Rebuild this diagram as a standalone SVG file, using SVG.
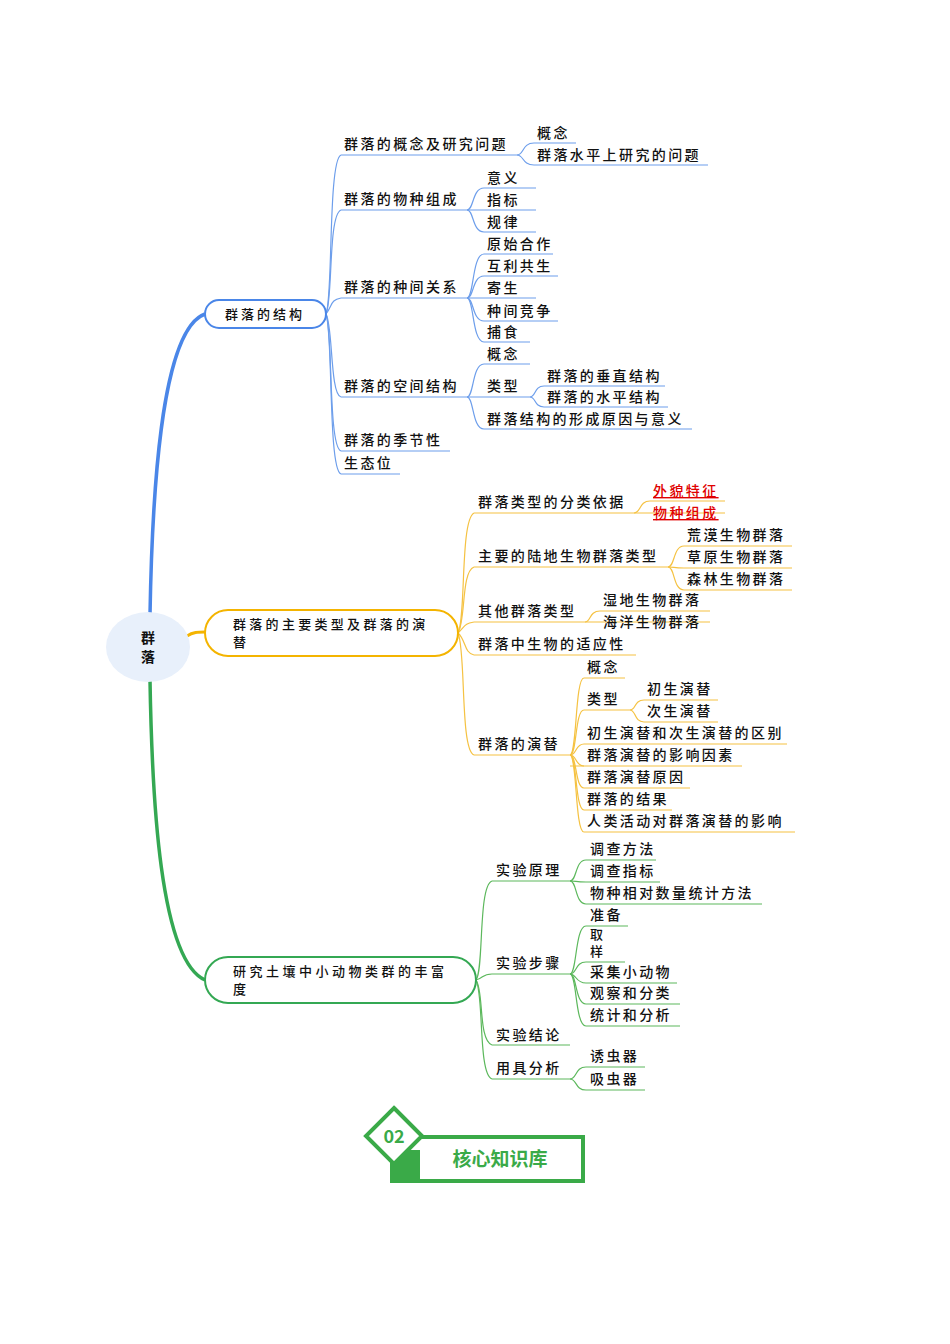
<svg xmlns="http://www.w3.org/2000/svg" width="950" height="1344" viewBox="0 0 950 1344">
<style>
text{font-family:"Noto Sans CJK SC","Noto Sans",sans-serif;font-size:14px;fill:#111;font-weight:500;letter-spacing:2.4px}
.r{fill:#e00000;text-decoration:underline}
.lb{fill:none;stroke:#6d9eeb;stroke-width:1.2}
.ly{fill:none;stroke:#f5c242;stroke-width:1.2}
.lg{fill:none;stroke:#5cb85c;stroke-width:1.2}
</style>
<rect width="950" height="1344" fill="#fff"/>
<g id="connectors">
<path d="M150 615 C152 500 160 330 205 314" fill="none" stroke="#4a86e8" stroke-width="3.5"/>
<path d="M150 680 C152 800 160 960 205 980" fill="none" stroke="#34a853" stroke-width="3.5"/>
<path d="M187 636 C193 632 198 632 205 632" fill="none" stroke="#f4b400" stroke-width="3"/>
<g class="lb">
<path d="M326 314 C333 300 328 160 341 155"/><path d="M326 314 C333 300 328 215 341 210"/><path d="M326 314 C333 305 330 300 341 298"/><path d="M326 314 C333 325 330 395 341 397"/><path d="M326 314 C333 330 328 447 341 451"/><path d="M326 314 C333 330 328 470 341 474"/>
<line x1="341" y1="155" x2="517" y2="155"/><line x1="341" y1="210" x2="467" y2="210"/><line x1="341" y1="298" x2="467" y2="298"/><line x1="341" y1="397" x2="467" y2="397"/><line x1="341" y1="451" x2="450" y2="451"/><line x1="341" y1="474" x2="400" y2="474"/>
<path d="M517 155 C524 155 522 143 534 143"/><path d="M517 155 C524 155 522 165 534 165"/>
<line x1="534" y1="143" x2="576" y2="143"/><line x1="534" y1="165" x2="708" y2="165"/>
<path d="M467 210 C474 210 472 188 484 188"/><line x1="467" y1="210" x2="536" y2="210"/><path d="M467 210 C474 210 472 232 484 232"/>
<line x1="484" y1="188" x2="536" y2="188"/><line x1="484" y1="232" x2="536" y2="232"/>
<path d="M467 298 C474 298 472 254 484 254"/><path d="M467 298 C474 298 472 276 484 276"/><line x1="467" y1="298" x2="536" y2="298"/><path d="M467 298 C474 298 472 321 484 321"/><path d="M467 298 C474 298 472 342 484 342"/>
<line x1="484" y1="254" x2="553" y2="254"/><line x1="484" y1="276" x2="558" y2="276"/><line x1="484" y1="321" x2="558" y2="321"/><line x1="484" y1="342" x2="530" y2="342"/>
<path d="M467 397 C474 397 472 364 484 364"/><line x1="467" y1="397" x2="530" y2="397"/><path d="M467 397 C474 397 472 429 484 429"/>
<line x1="484" y1="364" x2="530" y2="364"/><line x1="484" y1="429" x2="692" y2="429"/>
<path d="M530 397 C536 397 534 386 544 386"/><path d="M530 397 C536 397 534 407 544 407"/>
<line x1="544" y1="386" x2="665" y2="386"/><line x1="544" y1="407" x2="668" y2="407"/>
</g>
<g class="ly">
<path d="M458 633 C466 620 460 520 474 513"/><path d="M458 633 C466 620 461 572 474 567"/><path d="M458 633 C466 625 464 624 474 622"/><path d="M458 633 C466 640 464 653 474 655"/><path d="M458 633 C466 650 460 750 474 755"/>
<line x1="474" y1="513" x2="634" y2="513"/><line x1="474" y1="567" x2="668" y2="567"/><line x1="474" y1="622" x2="585" y2="622"/><line x1="474" y1="655" x2="636" y2="655"/><line x1="474" y1="755" x2="570" y2="755"/>
<path d="M634 513 C641 513 639 501 650 501"/><line x1="634" y1="513" x2="725" y2="513"/><line x1="650" y1="501" x2="725" y2="501"/>
<path d="M668 567 C675 567 673 546 684 546"/><path d="M668 567 C675 567 673 568 684 568"/><path d="M668 567 C675 567 673 590 684 590"/>
<line x1="684" y1="546" x2="792" y2="546"/><line x1="684" y1="568" x2="792" y2="568"/><line x1="684" y1="590" x2="792" y2="590"/>
<path d="M585 622 C591 622 589 611 600 611"/><line x1="585" y1="622" x2="710" y2="622"/><line x1="600" y1="611" x2="710" y2="611"/>
<path d="M570 755 C577 755 575 678 584 678"/><path d="M570 755 C577 755 575 710 584 710"/><path d="M570 755 C577 755 575 744 584 744"/><path d="M570 755 C577 755 575 788 584 788"/><path d="M570 755 C577 755 575 810 584 810"/><path d="M570 755 C577 755 575 832 584 832"/>
<line x1="584" y1="678" x2="625" y2="678"/><line x1="584" y1="710" x2="630" y2="710"/><line x1="584" y1="744" x2="787" y2="744"/><line x1="570" y1="766" x2="742" y2="766"/><path d="M570 755 C577 755 575 766 584 766"/><line x1="584" y1="788" x2="690" y2="788"/><line x1="584" y1="810" x2="672" y2="810"/><line x1="584" y1="832" x2="795" y2="832"/>
<path d="M630 710 C636 710 634 700 644 700"/><path d="M630 710 C636 710 634 722 644 722"/>
<line x1="644" y1="700" x2="718" y2="700"/><line x1="644" y1="722" x2="718" y2="722"/>
</g>
<g class="lg">
<path d="M476 980 C484 970 478 886 492 881"/><path d="M476 980 C484 978 482 974 492 974"/><path d="M476 980 C484 990 478 1040 492 1045"/><path d="M476 980 C484 995 478 1074 492 1079"/>
<line x1="492" y1="881" x2="570" y2="881"/><line x1="492" y1="974" x2="570" y2="974"/><line x1="492" y1="1045" x2="570" y2="1045"/><line x1="492" y1="1079" x2="570" y2="1079"/>
<path d="M570 881 C577 881 575 860 586 860"/><path d="M570 881 C577 881 575 882 586 882"/><path d="M570 881 C577 881 575 904 586 904"/>
<line x1="586" y1="860" x2="656" y2="860"/><line x1="586" y1="882" x2="660" y2="882"/><line x1="586" y1="904" x2="762" y2="904"/>
<path d="M570 974 C577 974 575 926 586 926"/><path d="M570 974 C577 974 575 962 586 962"/><path d="M570 974 C577 974 575 983 586 983"/><path d="M570 974 C577 974 575 1004 586 1004"/><path d="M570 974 C577 974 575 1026 586 1026"/>
<line x1="586" y1="926" x2="628" y2="926"/><line x1="586" y1="962" x2="625" y2="962"/><line x1="586" y1="983" x2="677" y2="983"/><line x1="586" y1="1004" x2="680" y2="1004"/><line x1="586" y1="1026" x2="680" y2="1026"/>
<path d="M570 1079 C577 1079 575 1067 586 1067"/><line x1="586" y1="1067" x2="645" y2="1067"/><line x1="586" y1="1090" x2="645" y2="1090"/><path d="M570 1079 C577 1079 575 1090 586 1090"/>
</g>
</g>
<g id="root"><ellipse cx="148" cy="647" rx="42" ry="35" fill="#e8f0fb"/><text x="148" y="643" text-anchor="middle" style="font-size:14px;font-weight:700;letter-spacing:0">群</text><text x="148" y="662" text-anchor="middle" style="font-size:14px;font-weight:700;letter-spacing:0">落</text></g>
<g id="b1"><rect x="205" y="300" width="121" height="28" rx="14" fill="#fff" stroke="#4a86e8" stroke-width="2"/><text x="225" y="319" style="font-size:13px;letter-spacing:3px">群落的结构</text></g>
<g id="b2"><rect x="205" y="610" width="253" height="46" rx="23" fill="#fff" stroke="#f4b400" stroke-width="2"/><text x="233" y="629" style="font-size:13px;letter-spacing:3.3px">群落的主要类型及群落的演</text><text x="233" y="647" style="font-size:13px">替</text></g>
<g id="b3"><rect x="205" y="957" width="271" height="46" rx="23" fill="#fff" stroke="#34a853" stroke-width="2"/><text x="233" y="976" style="font-size:13px;letter-spacing:3.5px">研究土壤中小动物类群的丰富</text><text x="233" y="994" style="font-size:13px">度</text></g>
<g id="t1">
<text x="344" y="149">群落的概念及研究问题</text><text x="537" y="138">概念</text><text x="537" y="160">群落水平上研究的问题</text>
<text x="344" y="204">群落的物种组成</text><text x="487" y="183">意义</text><text x="487" y="205">指标</text><text x="487" y="227">规律</text>
<text x="344" y="292">群落的种间关系</text><text x="487" y="249">原始合作</text><text x="487" y="271">互利共生</text><text x="487" y="293">寄生</text><text x="487" y="316">种间竞争</text><text x="487" y="337">捕食</text>
<text x="344" y="391">群落的空间结构</text><text x="487" y="359">概念</text><text x="487" y="391">类型</text><text x="487" y="424">群落结构的形成原因与意义</text><text x="547" y="381">群落的垂直结构</text><text x="547" y="402">群落的水平结构</text>
<text x="344" y="445">群落的季节性</text><text x="344" y="468">生态位</text>
</g>
<g id="t2">
<text x="478" y="507">群落类型的分类依据</text><text x="653" y="496" class="r" font-weight="700">外貌特征</text><text x="653" y="518" class="r" font-weight="700">物种组成</text>
<text x="478" y="561">主要的陆地生物群落类型</text><text x="687" y="540">荒漠生物群落</text><text x="687" y="562">草原生物群落</text><text x="687" y="584">森林生物群落</text>
<text x="478" y="616">其他群落类型</text><text x="603" y="605">湿地生物群落</text><text x="603" y="627">海洋生物群落</text>
<text x="478" y="649">群落中生物的适应性</text>
<text x="478" y="749">群落的演替</text><text x="587" y="672">概念</text><text x="587" y="704">类型</text><text x="647" y="694">初生演替</text><text x="647" y="716">次生演替</text><text x="587" y="738">初生演替和次生演替的区别</text><text x="587" y="760">群落演替的影响因素</text><text x="587" y="782">群落演替原因</text><text x="587" y="804">群落的结果</text><text x="587" y="826">人类活动对群落演替的影响</text>
</g>
<g id="t3">
<text x="496" y="875">实验原理</text><text x="590" y="854">调查方法</text><text x="590" y="876">调查指标</text><text x="590" y="898">物种相对数量统计方法</text>
<text x="496" y="968">实验步骤</text><text x="590" y="920">准备</text><text x="590" y="939" style="font-size:13px">取</text><text x="590" y="956" style="font-size:13px">样</text><text x="590" y="977">采集小动物</text><text x="590" y="998">观察和分类</text><text x="590" y="1020">统计和分析</text>
<text x="496" y="1040">实验结论</text><text x="496" y="1073">用具分析</text><text x="590" y="1061">诱虫器</text><text x="590" y="1084">吸虫器</text>
</g>
<g id="badge">
<rect x="392" y="1137" width="191" height="44" fill="#fff" stroke="#3aaa48" stroke-width="4"/>
<rect x="390" y="1150" width="30" height="33" fill="#3aaa48"/>
<polygon points="394,1108 422,1136 394,1164 366,1136" fill="#fff" stroke="#3aaa48" stroke-width="4"/>
<text x="394" y="1143" text-anchor="middle" style="font-size:18px;font-weight:700;fill:#3aaa48;letter-spacing:0">02</text>
<text x="500" y="1166" text-anchor="middle" style="font-size:19px;font-weight:700;fill:#3aaa48;letter-spacing:0">核心知识库</text>
</g>
</svg>
